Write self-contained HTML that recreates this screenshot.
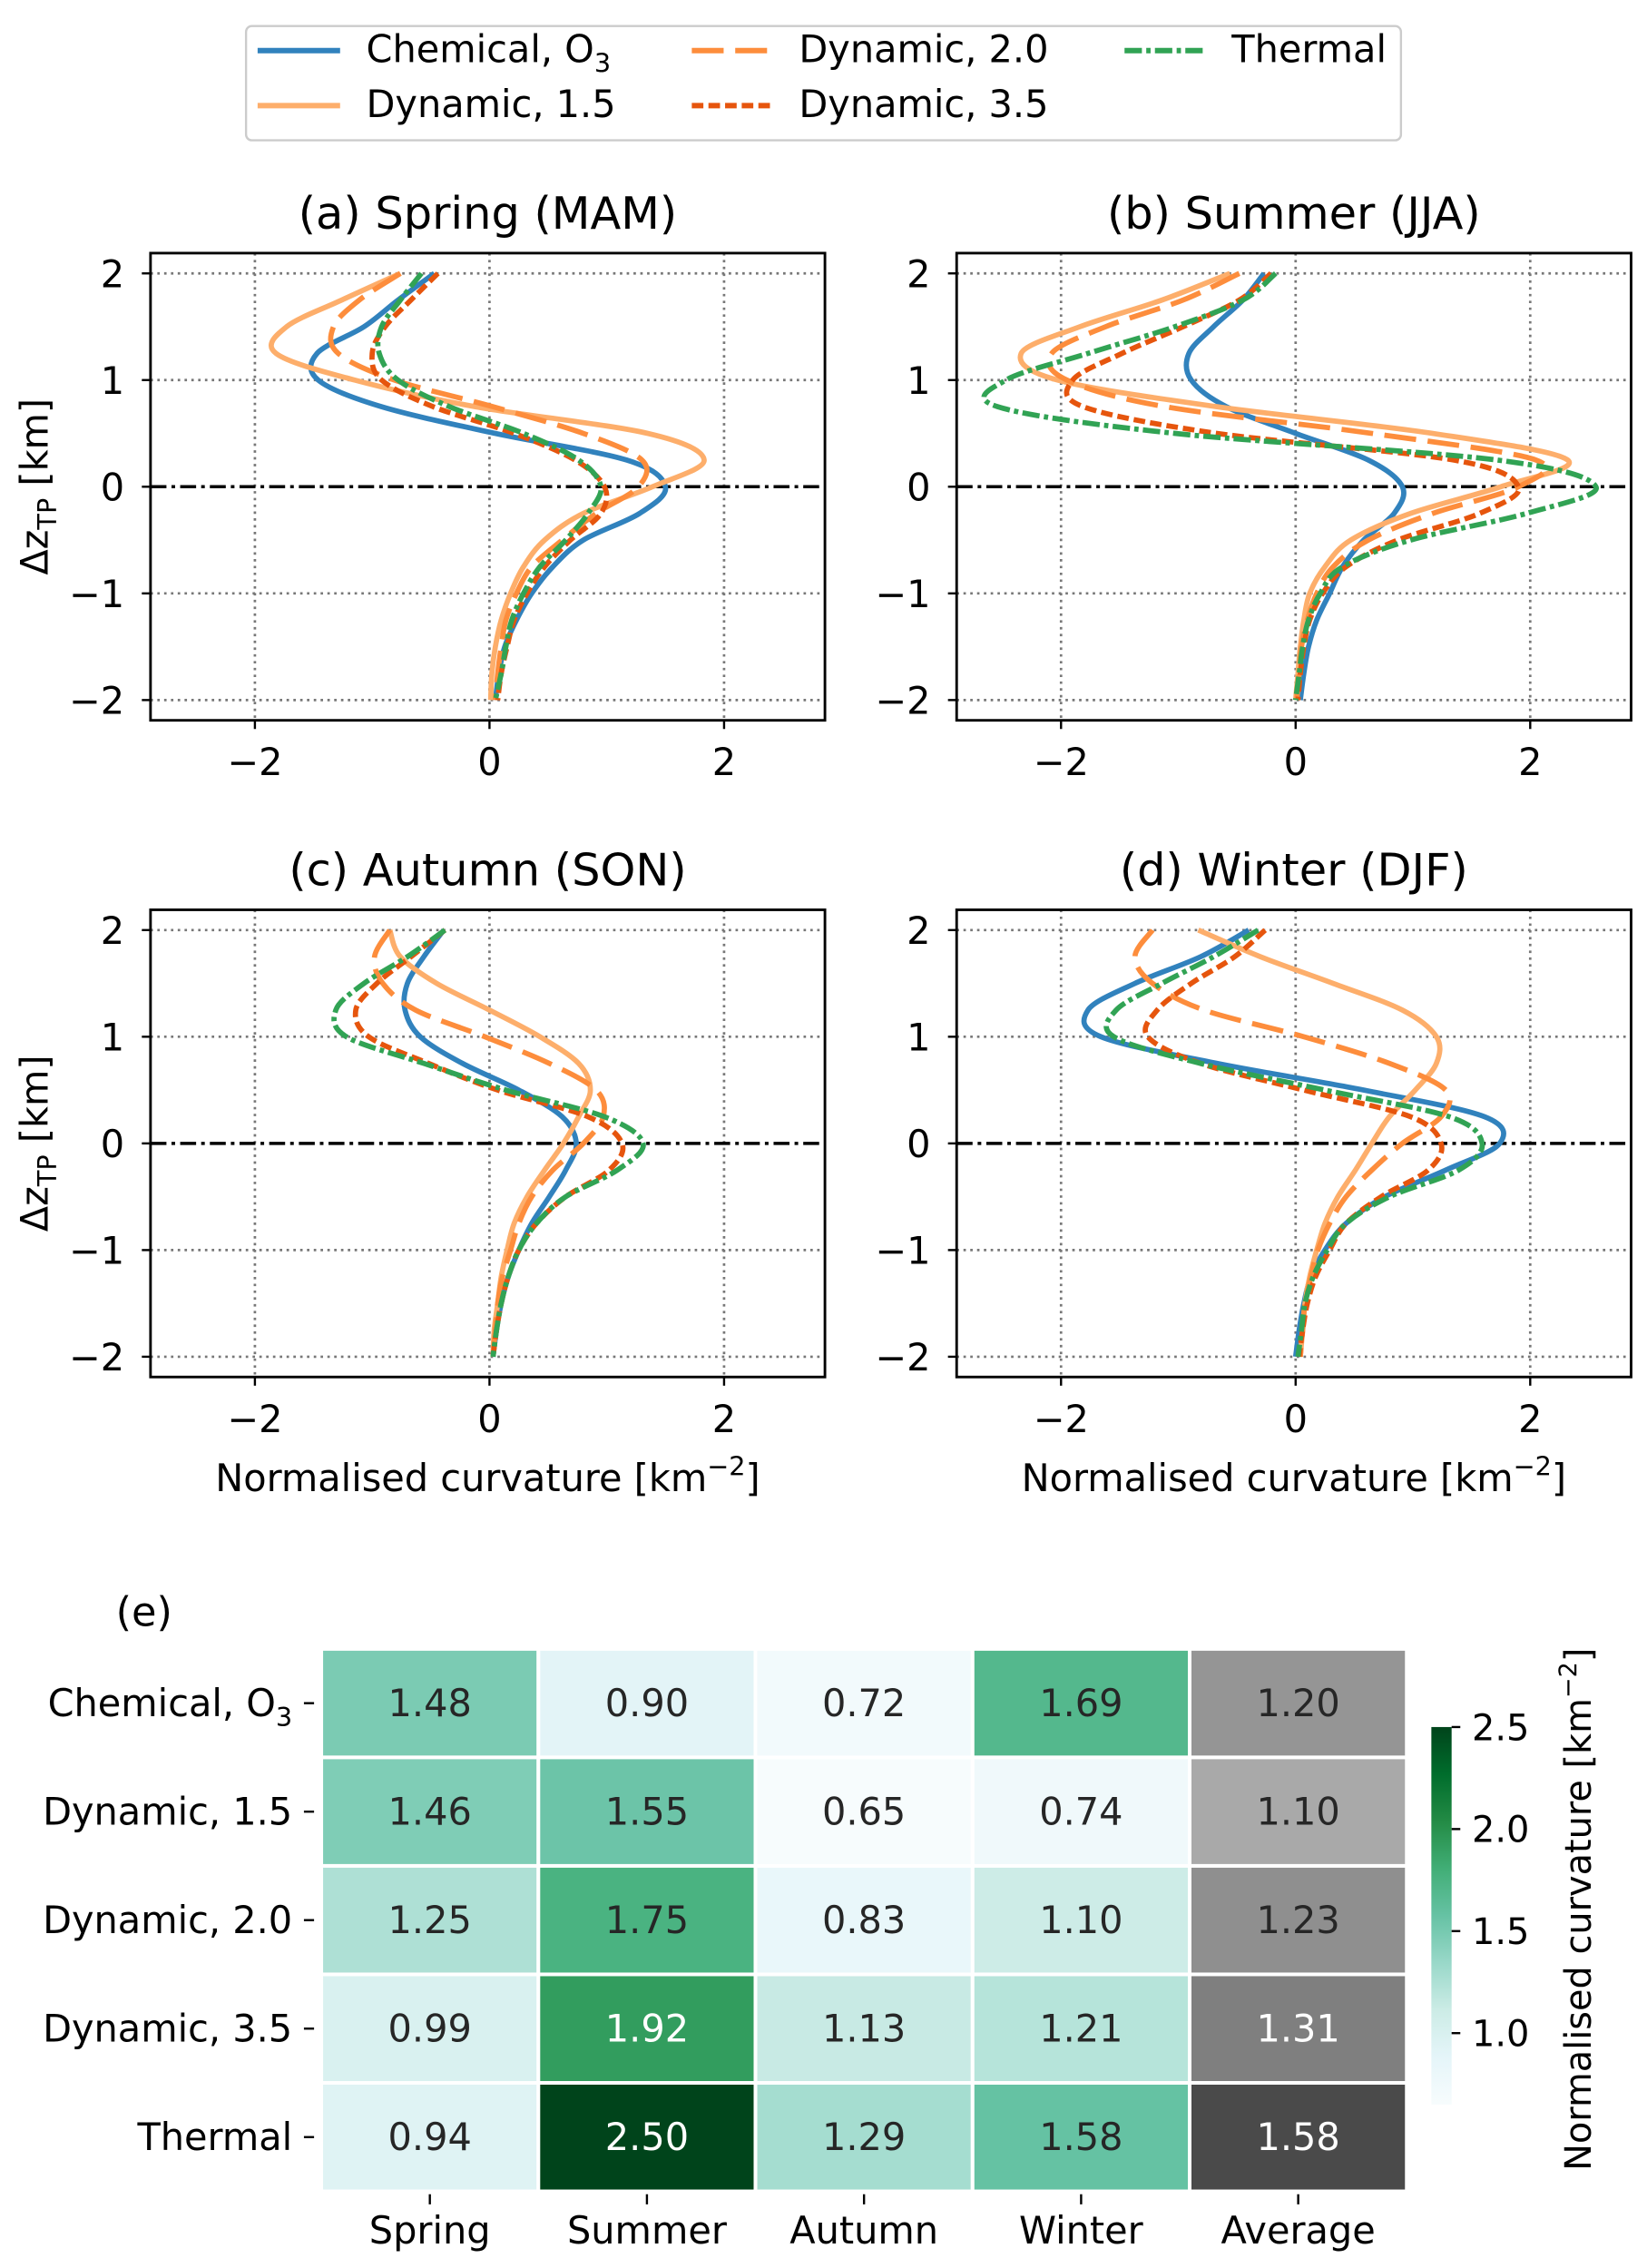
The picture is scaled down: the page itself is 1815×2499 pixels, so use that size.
<!DOCTYPE html>
<html><head><meta charset="utf-8"><style>
html,body{margin:0;padding:0;background:#fff;}
svg{display:block;font-family:"DejaVu Sans","Liberation Sans",sans-serif;}
</style></head><body>
<svg id="fig" width="1815" height="2499" viewBox="0 0 1138 1568" preserveAspectRatio="none" xmlns="http://www.w3.org/2000/svg">
<rect width="1138" height="1568" fill="#fff"/>
<g id="legend">
  <rect x="170" y="18" width="798" height="79" rx="4" fill="#fff" stroke="#ccc" stroke-width="1.5"/>
  <g><line x1="178" y1="35" x2="235" y2="35" stroke="#3182bd" stroke-width="3.8"/><text x="253" y="43" font-size="26">Chemical, O<tspan font-size="18" dy="7">3</tspan></text></g>
  <g><line x1="178" y1="73" x2="235" y2="73" stroke="#fdae6b" stroke-width="3.8"/><text x="253" y="81" font-size="26">Dynamic, 1.5</text></g>
  <g><line x1="478" y1="35" x2="535" y2="35" stroke="#fd8d3c" stroke-width="3.8" stroke-dasharray="22 8"/><text x="552" y="43" font-size="26">Dynamic, 2.0</text></g>
  <g><line x1="478" y1="73" x2="535" y2="73" stroke="#e6550d" stroke-width="3.8" stroke-dasharray="8 3.5"/><text x="552" y="81" font-size="26">Dynamic, 3.5</text></g>
  <g><line x1="777" y1="35" x2="834" y2="35" stroke="#31a354" stroke-width="3.8" stroke-dasharray="12 3 3 3"/><text x="851" y="43" font-size="26">Thermal</text></g>
</g>
<g id="panels"></g>
<g id="heat"></g>
</svg>
<script>
const NS="http://www.w3.org/2000/svg";
const levels=[2,1.75,1.5,1.25,1,0.75,0.5,0.25,0,-0.25,-0.5,-0.75,-1,-1.25,-1.5,-1.75,-2];
const seriesNames=["Chemical, O3","Dynamic, 1.5","Dynamic, 2.0","Dynamic, 3.5","Thermal"];
const springChem=[-0.47,-0.78,-1.07,-1.47,-1.46,-0.92,0.05,1.17,1.50,1.28,0.80,0.54,0.36,0.23,0.13,0.08,0.05];
const springDyn15=[-0.76,-1.26,-1.73,-1.82,-1.15,-0.12,1.35,1.83,1.39,0.80,0.47,0.29,0.18,0.10,0.05,0.02,0.01];
const springDyn20=[-0.76,-1.11,-1.33,-1.29,-0.81,0.03,0.80,1.30,1.27,0.91,0.62,0.36,0.23,0.14,0.10,0.07,0.05];
const springDyn35=[-0.44,-0.67,-0.89,-1.00,-0.92,-0.48,0.21,0.73,0.98,0.95,0.69,0.47,0.32,0.21,0.15,0.10,0.07];
const springTherm=[-0.58,-0.76,-0.92,-0.94,-0.78,-0.34,0.29,0.76,0.95,0.84,0.65,0.43,0.29,0.19,0.14,0.10,0.05];
const summerChem=[-0.27,-0.45,-0.70,-0.91,-0.89,-0.59,0.0,0.62,0.91,0.84,0.58,0.40,0.29,0.18,0.11,0.07,0.04];
const summerDyn15=[-0.56,-1.14,-1.84,-2.34,-2.03,-0.67,1.17,2.32,1.75,0.98,0.47,0.25,0.12,0.07,0.04,0.02,0.0];
const summerDyn20=[-0.48,-0.96,-1.62,-2.08,-1.95,-1.11,0.65,2.05,1.90,1.17,0.62,0.32,0.18,0.10,0.05,0.03,0.01];
const summerDyn35=[-0.21,-0.48,-0.96,-1.48,-1.90,-1.81,-0.67,1.35,1.90,1.57,0.87,0.43,0.23,0.12,0.07,0.04,0.02];
const summerTherm=[-0.17,-0.45,-1.03,-1.77,-2.47,-2.54,-1.03,1.72,2.56,1.97,0.98,0.40,0.21,0.11,0.06,0.03,0.0];
const autumnChem=[-0.39,-0.56,-0.70,-0.72,-0.59,-0.23,0.25,0.62,0.74,0.65,0.51,0.36,0.25,0.16,0.10,0.06,0.03];
const autumnDyn15=[-0.85,-0.76,-0.45,0.0,0.43,0.76,0.86,0.76,0.63,0.47,0.32,0.21,0.15,0.10,0.07,0.04,0.03];
const autumnDyn20=[-0.85,-0.98,-0.91,-0.63,-0.04,0.51,0.91,0.97,0.80,0.54,0.36,0.25,0.18,0.11,0.07,0.05,0.03];
const autumnDyn35=[-0.38,-0.67,-0.96,-1.14,-1.03,-0.52,0.07,0.84,1.13,1.02,0.65,0.40,0.25,0.16,0.10,0.06,0.03];
const autumnTherm=[-0.38,-0.70,-1.07,-1.31,-1.22,-0.56,0.14,0.98,1.31,1.09,0.65,0.40,0.25,0.16,0.10,0.06,0.03];
const winterChem=[-0.40,-0.81,-1.37,-1.77,-1.66,-0.67,0.58,1.61,1.74,1.28,0.76,0.43,0.25,0.13,0.07,0.03,0.0];
const winterDyn15=[-0.83,-0.30,0.32,0.91,1.20,1.20,1.02,0.80,0.65,0.51,0.36,0.25,0.18,0.12,0.08,0.06,0.04];
const winterDyn20=[-1.22,-1.37,-1.22,-0.78,0.07,0.80,1.28,1.24,0.91,0.65,0.43,0.29,0.19,0.13,0.08,0.06,0.04];
const winterDyn35=[-0.26,-0.52,-0.89,-1.18,-1.26,-0.81,0.07,0.98,1.24,1.13,0.73,0.43,0.29,0.17,0.10,0.06,0.03];
const winterTherm=[-0.32,-0.70,-1.14,-1.53,-1.55,-0.81,0.25,1.31,1.59,1.39,0.80,0.43,0.27,0.15,0.08,0.05,0.02];
const xTicks=[-2,0,2];
const yTicks=[2,1,0,-1,-2];
const seasons=["Spring","Summer","Autumn","Winter","Average"];
const chemVals=[1.48,0.90,0.72,1.69,1.20];
const dyn15Vals=[1.46,1.55,0.65,0.74,1.10];
const dyn20Vals=[1.25,1.75,0.83,1.10,1.23];
const dyn35Vals=[0.99,1.92,1.13,1.21,1.31];
const thermVals=[0.94,2.50,1.29,1.58,1.58];
const cbarTicks=[1.0,1.5,2.0,2.5];

const styles=[
 {c:"#3182bd",d:""},{c:"#fdae6b",d:""},{c:"#fd8d3c",d:"22 8"},{c:"#e6550d",d:"8 3.5"},{c:"#31a354",d:"12 3 3 3"}];
const panels=[
 {title:"(a) Spring (MAM)",x0:104,y0:175,data:[springChem,springDyn15,springDyn20,springDyn35,springTherm],ylab:true,xlab:false,key:"spring"},
 {title:"(b) Summer (JJA)",x0:661,y0:175,data:[summerChem,summerDyn15,summerDyn20,summerDyn35,summerTherm],ylab:false,xlab:false,key:"summer"},
 {title:"(c) Autumn (SON)",x0:104,y0:629,data:[autumnChem,autumnDyn15,autumnDyn20,autumnDyn35,autumnTherm],ylab:true,xlab:true,key:"autumn"},
 {title:"(d) Winter (DJF)",x0:661,y0:629,data:[winterChem,winterDyn15,winterDyn20,winterDyn35,winterTherm],ylab:false,xlab:true,key:"winter"}];
const W=466,H=323,XMIN=-2.89,XMAX=2.86,YMIN=-2.19,YMAX=2.19;
function el(tag,attrs,parent){const e=document.createElementNS(NS,tag);for(const k in attrs)e.setAttribute(k,attrs[k]);parent.appendChild(e);return e;}
function crPath(pts){let d=`M${pts[0][0].toFixed(2)},${pts[0][1].toFixed(2)}`;
 for(let i=0;i<pts.length-1;i++){const p0=pts[i-1]||pts[i],p1=pts[i],p2=pts[i+1],p3=pts[i+2]||p2;
  const c1=[p1[0]+(p2[0]-p0[0])/6,p1[1]+(p2[1]-p0[1])/6],c2=[p2[0]-(p3[0]-p1[0])/6,p2[1]-(p3[1]-p1[1])/6];
  d+=`C${c1[0].toFixed(2)},${c1[1].toFixed(2)} ${c2[0].toFixed(2)},${c2[1].toFixed(2)} ${p2[0].toFixed(2)},${p2[1].toFixed(2)}`;}
 return d;}
const gp=document.getElementById("panels");
panels.forEach(p=>{
 const sx=v=>p.x0+(v-XMIN)/(XMAX-XMIN)*W, sy=v=>p.y0+(YMAX-v)/(YMAX-YMIN)*H;
 const g=el("g",{},gp);
 
 
 const t=el("text",{x:p.x0+W/2,y:p.y0-17,"font-size":31,"text-anchor":"middle"},g);t.textContent=p.title;
 
 
 const cp="clip-"+p.key;const cl=el("clipPath",{id:cp},g);el("rect",{x:p.x0,y:p.y0,width:W,height:H},cl);
 xTicks.forEach(v=>{const gl=el("line",{x1:sx(v),x2:sx(v),y1:p.y0,y2:p.y0+H,stroke:"#777","stroke-width":1.7,"stroke-dasharray":"1.7 3"},g);
  
  
  el("line",{x1:sx(v),x2:sx(v),y1:p.y0+H,y2:p.y0+H+6,stroke:"#000","stroke-width":1.5},g);
  const tl=el("text",{x:sx(v),y:p.y0+H+38,"font-size":26,"text-anchor":"middle"},g);tl.textContent=v<0?"\u2212"+(-v):String(v);
  
  });
 yTicks.forEach(v=>{if(v!==0){const gl=el("line",{x1:p.x0,x2:p.x0+W,y1:sy(v),y2:sy(v),stroke:"#777","stroke-width":1.7,"stroke-dasharray":"1.7 3"},g);
   
   }
  el("line",{x1:p.x0-6,x2:p.x0,y1:sy(v),y2:sy(v),stroke:"#000","stroke-width":1.5},g);
  const tl=el("text",{x:p.x0-18,y:sy(v)+9.5,"font-size":26,"text-anchor":"end"},g);tl.textContent=v<0?"\u2212"+(-v):String(v);
  
  });
 const zl=el("line",{x1:p.x0,x2:p.x0+W,y1:sy(0),y2:sy(0),stroke:"#000","stroke-width":2.2,"stroke-dasharray":"11 3.5 2.5 3.5"},g);
 
 
 const cg=el("g",{"clip-path":`url(#${cp})`},g);
 p.data.forEach((arr,i)=>{
  const pts=arr.map((v,j)=>[sx(v),sy(levels[j])]);
  const path=el("path",{d:crPath(pts),fill:"none",stroke:styles[i].c,"stroke-width":3.6},cg);
  if(styles[i].d)path.setAttribute("stroke-dasharray",styles[i].d);
  
  
 });
 el("rect",{x:p.x0,y:p.y0,width:W,height:H,fill:"none",stroke:"#000","stroke-width":1.8},g);
 if(p.ylab){const yl=el("text",{transform:`translate(33,${p.y0+H/2}) rotate(-90)`,"font-size":26,"text-anchor":"middle"},g);
  yl.innerHTML='\u0394z<tspan font-size="18" dy="6">TP</tspan><tspan dy="-6"> [km]</tspan>';
  
  }
 if(p.xlab){const xl=el("text",{x:p.x0+W/2,y:p.y0+H+79,"font-size":26,"text-anchor":"middle"},g);
  xl.innerHTML='Normalised curvature [km<tspan font-size="18" dy="-11">\u22122</tspan><tspan dy="11">]</tspan>';
  
  }
});
const gh=document.getElementById("heat");
const rows=[chemVals,dyn15Vals,dyn20Vals,dyn35Vals,thermVals];
const HX=222,HY=1140,CW=150,RH=75,VMIN=0.65,VMAX=2.5;
const bugn=[[247,252,253],[229,245,249],[204,236,230],[153,216,201],[102,194,164],[65,174,118],[35,139,69],[0,109,44],[0,68,27]];
function bugnColor(v){let t=Math.max(0,Math.min(1,(v-VMIN)/(VMAX-VMIN)))*8;const i=Math.min(7,Math.floor(t)),f=t-i;
 const c=bugn[i].map((a,k)=>Math.round(a+(bugn[i+1][k]-a)*f));return {fill:`rgb(${c})`,lum:(0.3*c[0]+0.59*c[1]+0.11*c[2])};}
function greyColor(v){const g=Math.round(Math.max(40,Math.min(230,169-198*(v-1.10))));return {fill:`rgb(${g},${g},${g})`,lum:g};}
const hl=el("text",{x:80,y:1124,"font-size":28},gh);hl.textContent="(e)";


rows.forEach((row,r)=>{
 const lab=el("text",{x:202,y:HY+r*RH+RH/2+9,"font-size":26,"text-anchor":"end"},gh);
 if(r===0)lab.innerHTML='Chemical, O<tspan font-size="18" dy="7">3</tspan>';else lab.textContent=seriesNames[r];
 
 
 el("line",{x1:210,x2:217,y1:HY+r*RH+RH/2,y2:HY+r*RH+RH/2,stroke:"#000","stroke-width":1.5},gh);
 row.forEach((v,c)=>{
  const col=c===4?greyColor(v):bugnColor(v);
  const cell=el("rect",{x:HX+c*CW,y:HY+r*RH,width:CW,height:RH,fill:col.fill,stroke:"#fff","stroke-width":2.5},gh);
  
  
  const tx=el("text",{x:HX+c*CW+CW/2,y:HY+r*RH+RH/2+9,"font-size":26,"text-anchor":"middle",fill:col.lum<135?"#fff":"#262626"},gh);
  tx.textContent=v.toFixed(2);
  
  
 });
});
seasons.forEach((s,c)=>{
 el("line",{x1:HX+c*CW+CW/2,x2:HX+c*CW+CW/2,y1:HY+5*RH+2,y2:HY+5*RH+9,stroke:"#000","stroke-width":1.5},gh);
 const t=el("text",{x:HX+c*CW+CW/2,y:1551,"font-size":26,"text-anchor":"middle"},gh);t.textContent=s;
 
 
});
const CBX=989,CBW=14,CBT=1194,CBB=1455;
const grad=el("linearGradient",{id:"cbg",x1:0,y1:1,x2:0,y2:0},el("defs",{},gh));
bugn.forEach((c,i)=>el("stop",{offset:(i/8).toFixed(3),"stop-color":`rgb(${c})`},grad));
const cb=el("rect",{x:CBX,y:CBT,width:CBW,height:CBB-CBT,fill:"url(#cbg)"},gh);


const cy=v=>CBB-(v-VMIN)/(VMAX-VMIN)*(CBB-CBT);
cbarTicks.forEach(v=>{el("line",{x1:CBX+CBW,x2:CBX+CBW+6,y1:cy(v),y2:cy(v),stroke:"#000","stroke-width":1.5},gh);
 const t=el("text",{x:CBX+CBW+14,y:cy(v)+9,"font-size":25},gh);t.textContent=v.toFixed(1);
 
 });
const cbl=el("text",{transform:"translate(1099,1320) rotate(-90)","font-size":25,"text-anchor":"middle"},gh);
cbl.innerHTML='Normalised curvature [km<tspan font-size="17" dy="-10">\u22122</tspan><tspan dy="10">]</tspan>';


</script>
</body></html>
